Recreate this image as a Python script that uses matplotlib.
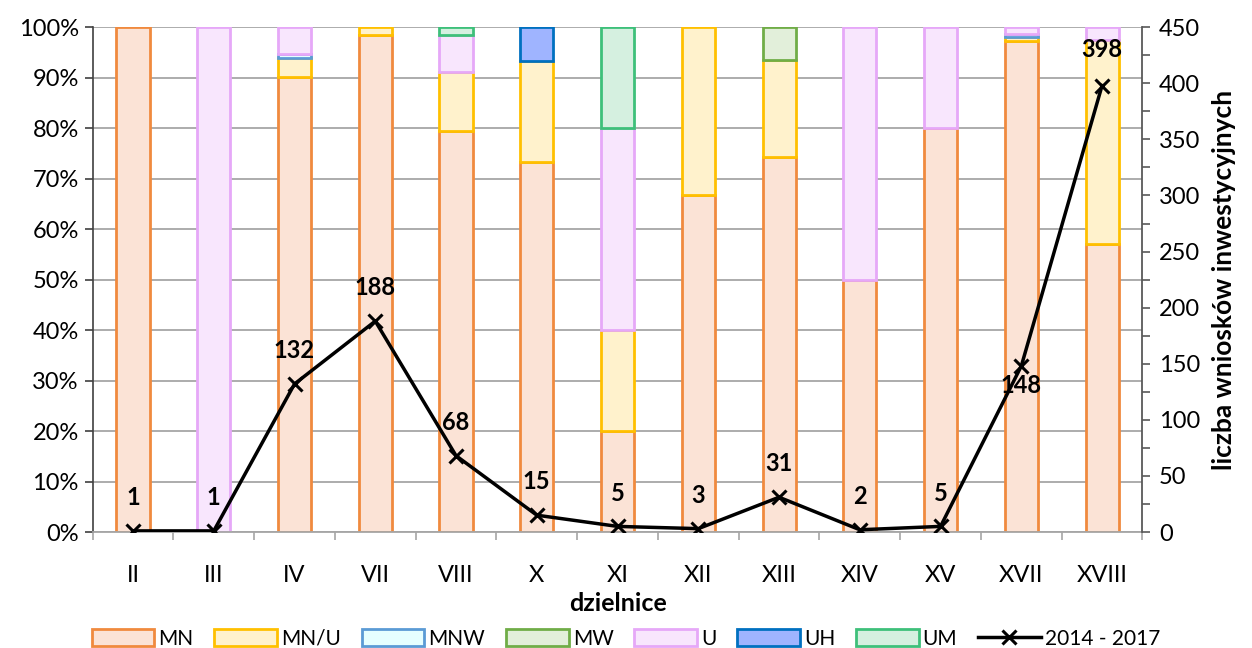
import numpy as np
import matplotlib
matplotlib.use('Agg')
import matplotlib.pyplot as plt
from matplotlib.ticker import PercentFormatter, MultipleLocator, FixedLocator

plt.rcParams['font.family'] = ['Lato', 'DejaVu Sans']

dzielnice = ['II', 'III', 'IV', 'VII', 'VIII', 'X', 'XI', 'XII', 'XIII', 'XIV', 'XV', 'XVII', 'XVIII']

# liczba wnioskow wg funkcji (z nich liczone udzialy procentowe)
MN = [1, 0, 119, 185, 54, 11, 1, 2, 23, 1, 4, 144, 227]
MN_U = [0, 0, 5, 3, 8, 3, 1, 1, 6, 0, 0, 1, 161]
MNW = [0, 0, 1, 0, 0, 0, 0, 0, 0, 0, 0, 1, 0]
MW = [0, 0, 0, 0, 0, 0, 0, 0, 2, 0, 0, 0, 0]
U = [0, 1, 7, 0, 5, 0, 2, 0, 0, 1, 1, 2, 10]
UH = [0, 0, 0, 0, 0, 1, 0, 0, 0, 0, 0, 0, 0]
UM = [0, 0, 0, 0, 1, 0, 1, 0, 0, 0, 0, 0, 0]

wnioski = [1, 1, 132, 188, 68, 15, 5, 3, 31, 2, 5, 148, 398]

series = [
    ('MN', MN, '#FBE3D6', '#F08A3E'),
    ('MN/U', MN_U, '#FFF2CC', '#FFC000'),
    ('MNW', MNW, '#E6FFFF', '#5B9BD5'),
    ('MW', MW, '#E2EFDA', '#70AD47'),
    ('U', U, '#F8E6FD', '#E6A8F8'),
    ('UH', UH, '#9FB4FF', '#0070C0'),
    ('UM', UM, '#D5F0E0', '#3EC07A'),
]

fig = plt.figure(figsize=(12.52, 6.48), dpi=100)
ax = fig.add_axes([0.074, 0.179, 0.8385, 0.779])
x = np.arange(len(dzielnice))
total = np.array(wnioski, dtype=float)

bottom = np.zeros(len(x))
handles = []
for name, vals, face, edge in series:
    share = np.array(vals) / total
    nz = share > 0
    ax.bar(x[nz], share[nz], 0.41, bottom=bottom[nz], color=face, edgecolor=edge,
           linewidth=2, zorder=2)
    handles.append(plt.Rectangle((0, 0), 1, 1, facecolor=face, edgecolor=edge,
                                 linewidth=2, label=name))
    bottom += share

ax.set_xlim(-0.5, len(x) - 0.5)
ax.set_ylim(0, 1)
ax.yaxis.set_major_locator(MultipleLocator(0.1))
ax.yaxis.set_major_formatter(PercentFormatter(1.0, decimals=0))
ax.grid(axis='y', color='#A6A6A6', linewidth=1.3, zorder=0)
ax.set_axisbelow(True)
for s in ['top', 'right']:
    ax.spines[s].set_visible(False)
ax.spines['left'].set_color('#404040')
ax.spines['left'].set_linewidth(1.2)
ax.spines['bottom'].set_color('#A6A6A6')
ax.spines['bottom'].set_linewidth(1.3)
ax.tick_params(axis='y', length=6, width=1.2, color='#404040', labelsize=17, pad=4)
ax.set_xticks(x)
ax.set_xticklabels(dzielnice)
ax.xaxis.set_minor_locator(FixedLocator(np.arange(-0.5, len(x), 1.0)))
ax.tick_params(axis='x', which='major', length=0, labelsize=17, pad=24)
ax.tick_params(axis='x', which='minor', length=6, width=1.2, color='#A6A6A6')
ax.set_xlabel('dzielnice', fontsize=18, fontweight='bold', labelpad=4)

ax2 = ax.twinx()
ax2.set_ylim(0, 450)
ax2.yaxis.set_major_locator(MultipleLocator(50))
ax2.yaxis.set_minor_locator(MultipleLocator(25))
for s in ['top', 'left', 'bottom']:
    ax2.spines[s].set_visible(False)
ax2.spines['right'].set_color('#595959')
ax2.spines['right'].set_linewidth(1.3)
ax2.tick_params(axis='y', which='major', length=6, width=1.2, color='#595959', labelsize=17, pad=6)
ax2.tick_params(axis='y', which='minor', length=6, width=1.2, color='#595959')
ax2.set_ylabel('liczba wniosków inwestycyjnych', fontsize=19, fontweight='bold', labelpad=8)

line, = ax2.plot(x, wnioski, color='black', linewidth=2.5, marker='x',
                 markersize=10, markeredgewidth=2.2, label='2014 - 2017', zorder=5)

offsets = [24, 24, 24, 24, 24, 24, 24, 24, 24, 24, 24, -14, 26]
for xi, v, off in zip(x, wnioski, offsets):
    ax2.annotate(str(v), (xi, v), xytext=(0, off), textcoords='offset points',
                 ha='center', va='center', fontsize=17, fontweight='bold')

handles.append(line)
fig.legend(handles=handles, labels=[h.get_label() for h in handles],
           loc='lower center', bbox_to_anchor=(0.5, -0.03), ncol=8, frameon=False,
           fontsize=15, handlelength=3.0, handleheight=0.9, columnspacing=1.0,
           handletextpad=0.2)

fig.savefig('out.png', dpi=100)
